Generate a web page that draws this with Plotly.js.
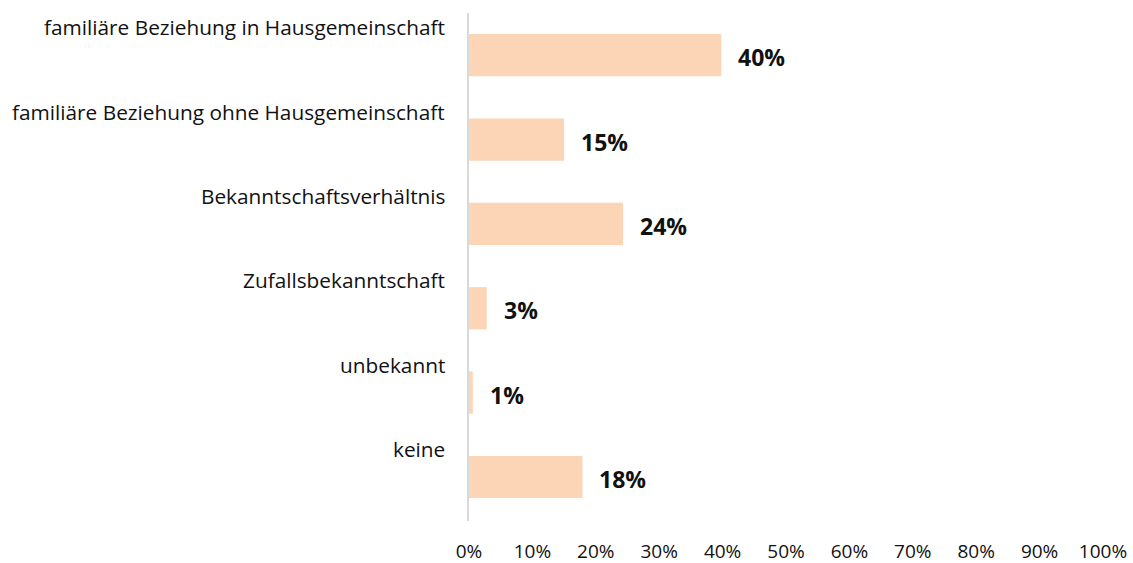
<!DOCTYPE html>
<html>
<head>
<meta charset="utf-8">
<script src="https://cdn.plot.ly/plotly-3.0.1.min.js"></script>
<style>html,body{margin:0;padding:0;background:#fff;}#chart{width:1133px;height:563px;}</style>
</head>
<body>
<div id="chart"></div>
<script>
const categories = [
  "familiäre Beziehung in Hausgemeinschaft",
  "familiäre Beziehung ohne Hausgemeinschaft",
  "Bekanntschaftsverhältnis",
  "Zufallsbekanntschaft",
  "unbekannt",
  "keine"
];
const values = [39.8, 15.0, 24.3, 2.8, 0.6, 17.9];
const tickValues = [0, 10, 20, 30, 40, 50, 60, 70, 80, 90, 100];
const tickLabels = ["0%", "10%", "20%", "30%", "40%", "50%", "60%", "70%", "80%", "90%", "100%"];

const FONT = "Open Sans, sans-serif";

const trace = {
  type: "bar",
  orientation: "h",
  y: categories,
  x: values,
  width: 0.5,
  marker: {color: "#FBD5B5"},
  hoverinfo: "none"
};

const annotations = [];
categories.forEach((c, i) => {
  annotations.push({
    xref: "paper", yref: "y", x: 0, y: c,
    xanchor: "right", yanchor: "middle",
    xshift: -22, yshift: 28,
    text: c, showarrow: false,
    font: {family: FONT, size: 20.8, color: "#111"}
  });
  annotations.push({
    xref: "x", yref: "y", x: values[i], y: c,
    xanchor: "left", yanchor: "middle",
    xshift: 15, yshift: -2,
    text: "<b>" + Math.round(values[i]) + "%</b>", showarrow: false,
    font: {family: FONT, size: 23, color: "#111"}
  });
});

const layout = {
  width: 1133, height: 563,
  margin: {l: 469, r: 30, t: 13, b: 42, pad: 0},
  paper_bgcolor: "#fff", plot_bgcolor: "#fff",
  showlegend: false,
  xaxis: {
    range: [0, 100],
    tickvals: tickValues, ticktext: tickLabels,
    showgrid: false, zeroline: false, showline: false,
    ticks: "", ticklabelstandoff: 17,
    tickfont: {family: FONT, size: 19, color: "#111"}
  },
  yaxis: {
    autorange: "reversed",
    showticklabels: false, ticks: "",
    showgrid: false, zeroline: false,
    showline: true, linecolor: "#D9D9D9", linewidth: 2
  },
  annotations: annotations
};

Plotly.newPlot("chart", [trace], layout, {staticPlot: true, displayModeBar: false});
</script>
</body>
</html>
